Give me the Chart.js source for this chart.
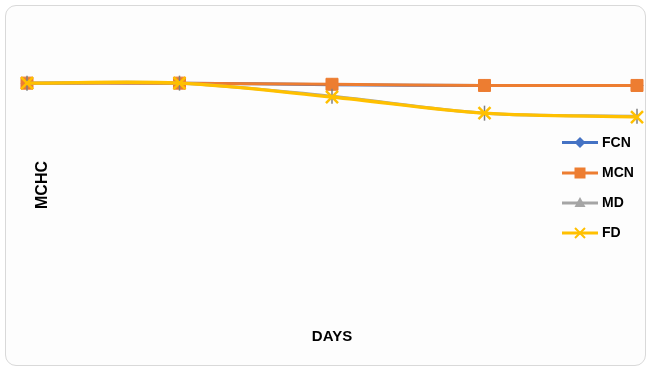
<!DOCTYPE html>
<html>
<head>
<meta charset="utf-8">
<script src="https://cdn.jsdelivr.net/npm/chart.js@4/dist/chart.umd.min.js"></script>
<style>
  html, body { margin: 0; padding: 0; background: #ffffff; }
  #wrap { position: relative; width: 648px; height: 369px; overflow: hidden; }
  #frame {
    position: absolute; left: 5px; top: 5px; width: 641px; height: 361px;
    border: 1px solid #d9d9d9; border-radius: 11px; background: #fdfdfd;
    box-sizing: border-box;
  }
  #chart { position: absolute; left: 0; top: 0; }
</style>
</head>
<body>
<div id="wrap">
  <div id="frame"></div>
  <canvas id="chart" width="648" height="369"></canvas>
</div>
<script>
// Sampling days (not labelled on the axis)
const days = ['1', '2', '3', '4', '5'];

// MCHC per group
const fcn = [31.8, 31.8, 31.6, 31.5, 31.5];
const mcn = [31.8, 31.8, 31.65, 31.5, 31.5];
const md  = [31.8, 31.8, 30.1, 27.9, 27.5];
const fd  = [31.8, 31.8, 30.0, 27.9, 27.4];

const seriesNames = ['FCN', 'MCN', 'MD', 'FD'];
const yMin = 0;
const yMax = 40;

const FONT = '"Liberation Sans", Arial, sans-serif';

const colors = {
  FCN: '#4472C4',
  MCN: '#ED7D31',
  MD: '#A5A5A5',
  FD: '#FFC000'
};

// Rotated y-axis title drawn over the plot
const yTitlePlugin = {
  id: 'yTitle',
  afterDraw(chart) {
    const ctx = chart.ctx;
    ctx.save();
    ctx.translate(42.5, 185);
    ctx.rotate(-Math.PI / 2);
    ctx.font = 'bold 16px ' + FONT;
    ctx.fillStyle = '#000000';
    ctx.textAlign = 'center';
    ctx.textBaseline = 'middle';
    ctx.fillText('MCHC', 0, 0);
    ctx.restore();
  }
};

// Legend with line + marker samples, floating at the right
const legendPlugin = {
  id: 'floatLegend',
  afterDraw(chart) {
    const ctx = chart.ctx;
    const rows = [142.5, 173, 203, 233];
    const x0 = 562, x1 = 598, xm = 580;
    ctx.save();
    seriesNames.forEach((name, i) => {
      const y = rows[i];
      const c = colors[name];
      ctx.strokeStyle = c;
      ctx.lineWidth = 3;
      ctx.beginPath();
      ctx.moveTo(x0, y);
      ctx.lineTo(x1, y);
      ctx.stroke();
      ctx.fillStyle = c;
      ctx.beginPath();
      if (name === 'FCN') {
        ctx.moveTo(xm, y - 5.5); ctx.lineTo(xm + 5.5, y);
        ctx.lineTo(xm, y + 5.5); ctx.lineTo(xm - 5.5, y);
        ctx.closePath(); ctx.fill();
      } else if (name === 'MCN') {
        ctx.rect(xm - 5.5, y - 5.5, 11, 11); ctx.fill();
      } else if (name === 'MD') {
        ctx.moveTo(xm, y - 6); ctx.lineTo(xm + 5.5, y + 4);
        ctx.lineTo(xm - 5.5, y + 4); ctx.closePath(); ctx.fill();
      } else {
        ctx.lineWidth = 2;
        ctx.moveTo(xm - 5, y - 5); ctx.lineTo(xm + 5, y + 5);
        ctx.moveTo(xm + 5, y - 5); ctx.lineTo(xm - 5, y + 5);
        ctx.stroke();
      }
      ctx.fillStyle = '#000000';
      ctx.font = 'bold 14px ' + FONT;
      ctx.textAlign = 'left';
      ctx.textBaseline = 'middle';
      ctx.fillText(name, 602, y + 0.5);
    });
    ctx.restore();
  }
};

new Chart(document.getElementById('chart'), {
  type: 'line',
  data: {
    labels: days,
    datasets: [
      {
        label: 'FCN', data: fcn, order: 3,
        borderColor: colors.FCN, backgroundColor: colors.FCN,
        borderWidth: 3, tension: 0.33,
        pointStyle: 'rectRot', pointRadius: 6,
        pointBackgroundColor: colors.FCN, pointBorderColor: colors.FCN, pointBorderWidth: 1
      },
      {
        label: 'MCN', data: mcn, order: 2,
        borderColor: colors.MCN, backgroundColor: colors.MCN,
        borderWidth: 3, tension: 0.33,
        pointStyle: 'rect', pointRadius: 8.5,
        pointBackgroundColor: colors.MCN, pointBorderColor: colors.MCN, pointBorderWidth: 1
      },
      {
        label: 'MD', data: md, order: 1,
        borderColor: colors.MD, backgroundColor: colors.MD,
        borderWidth: 3, tension: 0.33,
        pointStyle: 'line', pointRotation: 90, pointRadius: 7.5,
        pointBackgroundColor: '#7f7f7f', pointBorderColor: '#7f7f7f', pointBorderWidth: 1.5
      },
      {
        label: 'FD', data: fd, order: 0,
        borderColor: colors.FD, backgroundColor: colors.FD,
        borderWidth: 3.3, tension: 0.33,
        pointStyle: 'crossRot', pointRadius: 8.5,
        pointBackgroundColor: colors.FD, pointBorderColor: colors.FD, pointBorderWidth: 2.5
      }
    ]
  },
  options: {
    responsive: false,
    animation: false,
    devicePixelRatio: 1,
    layout: { padding: { left: 27, right: 11, top: 20, bottom: 23 } },
    plugins: {
      legend: { display: false },
      tooltip: { enabled: false }
    },
    scales: {
      x: {
        display: true,
        offset: false,
        grid: { display: false, drawTicks: false },
        border: { display: false },
        ticks: { display: false },
        title: {
          display: true, text: 'DAYS', color: '#000000', padding: 0,
          font: { family: FONT, size: 15, weight: 'bold' }
        }
      },
      y: {
        display: false,
        min: yMin,
        max: yMax
      }
    }
  },
  plugins: [yTitlePlugin, legendPlugin]
});
</script>
</body>
</html>
